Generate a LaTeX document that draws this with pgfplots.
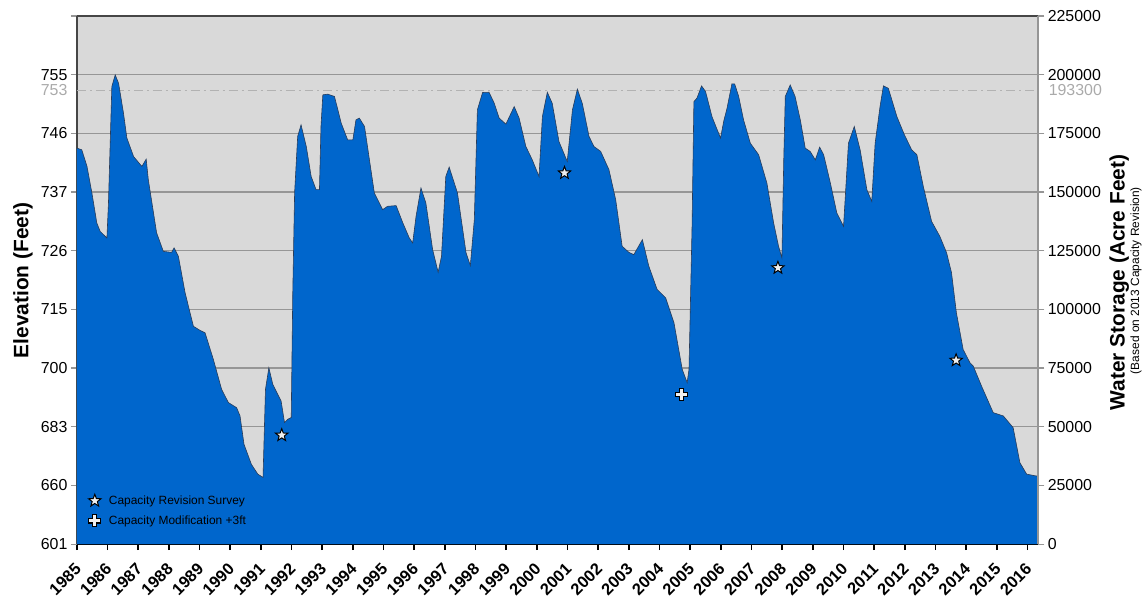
\documentclass[border=0pt]{standalone}
\usepackage{pgfplots}
\pgfplotsset{compat=1.18}
\usepackage{pgfplotstable}
\usepackage{fontspec}
\setmainfont{Liberation Sans}
\usetikzlibrary{plotmarks}

\definecolor{bluefill}{RGB}{0,102,204}
\definecolor{bgc}{RGB}{217,217,217}
\definecolor{gridc}{RGB}{150,150,150}
\definecolor{dashc}{RGB}{178,178,178}
\definecolor{lblgray}{RGB}{170,170,170}
\definecolor{edgec}{RGB}{40,60,90}
\definecolor{axdark}{RGB}{70,70,70}

\pgfdeclareplotmark{fivestar}{%
  \pgfpathmoveto{\pgfpointpolar{90}{\pgfplotmarksize}}%
  \pgfpathlineto{\pgfpointpolar{126}{0.42*\pgfplotmarksize}}%
  \pgfpathlineto{\pgfpointpolar{162}{\pgfplotmarksize}}%
  \pgfpathlineto{\pgfpointpolar{198}{0.42*\pgfplotmarksize}}%
  \pgfpathlineto{\pgfpointpolar{234}{\pgfplotmarksize}}%
  \pgfpathlineto{\pgfpointpolar{270}{0.42*\pgfplotmarksize}}%
  \pgfpathlineto{\pgfpointpolar{306}{\pgfplotmarksize}}%
  \pgfpathlineto{\pgfpointpolar{342}{0.42*\pgfplotmarksize}}%
  \pgfpathlineto{\pgfpointpolar{18}{\pgfplotmarksize}}%
  \pgfpathlineto{\pgfpointpolar{54}{0.42*\pgfplotmarksize}}%
  \pgfpathclose
  \pgfusepathqfillstroke}

\pgfdeclareplotmark{oplus}{%
  \pgfpathmoveto{\pgfpoint{-0.34*\pgfplotmarksize}{\pgfplotmarksize}}%
  \pgfpathlineto{\pgfpoint{0.34*\pgfplotmarksize}{\pgfplotmarksize}}%
  \pgfpathlineto{\pgfpoint{0.34*\pgfplotmarksize}{0.34*\pgfplotmarksize}}%
  \pgfpathlineto{\pgfpoint{\pgfplotmarksize}{0.34*\pgfplotmarksize}}%
  \pgfpathlineto{\pgfpoint{\pgfplotmarksize}{-0.34*\pgfplotmarksize}}%
  \pgfpathlineto{\pgfpoint{0.34*\pgfplotmarksize}{-0.34*\pgfplotmarksize}}%
  \pgfpathlineto{\pgfpoint{0.34*\pgfplotmarksize}{-\pgfplotmarksize}}%
  \pgfpathlineto{\pgfpoint{-0.34*\pgfplotmarksize}{-\pgfplotmarksize}}%
  \pgfpathlineto{\pgfpoint{-0.34*\pgfplotmarksize}{-0.34*\pgfplotmarksize}}%
  \pgfpathlineto{\pgfpoint{-\pgfplotmarksize}{-0.34*\pgfplotmarksize}}%
  \pgfpathlineto{\pgfpoint{-\pgfplotmarksize}{0.34*\pgfplotmarksize}}%
  \pgfpathlineto{\pgfpoint{-0.34*\pgfplotmarksize}{0.34*\pgfplotmarksize}}%
  \pgfpathclose
  \pgfusepathqfillstroke}

\pgfplotstableread{
year storage
1985.00 168700
1985.16 168000
1985.33 160900
1985.49 149600
1985.65 136800
1985.76 133200
1985.98 130400
1986.03 145400
1986.14 194900
1986.25 199900
1986.36 196300
1986.52 183600
1986.63 173000
1986.85 165100
1987.12 160900
1987.26 164000
1987.33 155200
1987.60 132600
1987.82 124700
1988.09 124300
1988.17 126200
1988.31 122600
1988.53 107000
1988.80 92800
1989.01 91100
1989.18 90000
1989.45 78700
1989.72 65900
1989.94 60300
1990.21 58100
1990.32 54600
1990.45 42500
1990.69 34000
1990.90 29800
1991.07 28400
1991.15 65900
1991.26 75100
1991.39 68000
1991.66 60900
1991.77 51800
1991.88 53200
1991.99 53900
1992.04 107000
1992.10 149600
1992.20 173700
1992.31 178600
1992.48 169400
1992.64 156600
1992.80 151000
1992.91 151000
1992.96 177900
1993.02 191400
1993.18 191700
1993.40 190700
1993.62 179300
1993.83 172200
1994.00 172200
1994.10 180700
1994.21 181500
1994.38 177900
1994.54 163700
1994.70 149600
1994.97 142500
1995.13 143900
1995.41 144200
1995.63 136800
1995.84 130400
1995.95 128300
1996.06 139600
1996.22 151700
1996.38 145300
1996.60 125500
1996.78 115800
1996.89 122600
1997.03 156600
1997.14 160600
1997.41 149600
1997.69 124100
1997.83 118700
1997.96 138200
1998.06 185000
1998.23 192400
1998.44 192500
1998.61 187800
1998.77 181500
1998.99 178900
1999.26 186400
1999.42 181500
1999.64 169400
1999.85 163700
2000.07 156600
2000.18 182100
2000.34 192500
2000.50 187800
2000.72 171500
2000.99 163000
2001.16 185000
2001.32 193800
2001.48 187800
2001.70 173700
2001.86 169400
2002.08 167300
2002.35 159500
2002.57 146700
2002.78 126900
2003.00 124300
2003.16 123300
2003.44 129700
2003.65 118400
2003.92 108500
2004.20 104900
2004.47 94300
2004.74 74400
2004.90 68800
2004.96 74400
2005.06 135400
2005.12 188500
2005.22 190000
2005.37 195200
2005.50 192800
2005.71 182100
2005.88 176500
2005.99 173000
2006.09 180000
2006.20 185700
2006.36 196100
2006.45 196000
2006.58 190700
2006.74 180700
2006.96 170800
2007.23 165900
2007.50 153800
2007.72 136800
2007.88 126900
2007.99 121900
2008.05 163700
2008.10 190700
2008.26 195600
2008.42 190700
2008.59 180700
2008.75 168700
2008.91 167300
2009.08 163700
2009.22 169100
2009.35 165900
2009.57 153800
2009.78 141100
2010.00 135400
2010.16 170800
2010.35 177900
2010.54 168000
2010.76 151000
2010.92 146000
2011.03 170800
2011.19 186400
2011.30 195200
2011.46 194200
2011.74 182100
2011.98 174500
2012.22 168000
2012.39 165900
2012.60 152400
2012.87 137500
2013.14 131100
2013.36 124100
2013.52 115600
2013.68 98500
2013.90 82900
2014.12 77300
2014.23 75800
2014.50 67300
2014.88 56000
2015.21 54600
2015.53 49600
2015.75 34700
2015.97 29800
2016.29 29000
2016.35 29000
}\storagedata

\begin{document}
\begin{tikzpicture}
\path (0,0) rectangle (1145bp,603bp);
\begin{axis}[
  at={(77bp,58bp)}, anchor=south west,
  width=963bp, height=529bp, scale only axis,
  xmin=1985, xmax=2016.35, ymin=0, ymax=225000,
  scaled x ticks=false, scaled y ticks=false,
  axis x line*=bottom, axis y line*=left,
  axis background/.style={fill=bgc},
  x axis line style={black, line width=2.5bp, -},
  y axis line style={axdark, line width=2bp, -},
  tick align=outside, major tick length=6bp,
  x tick style={black, line width=1.5bp},
  y tick style={gridc, line width=1.2bp},
  xtick={1985,...,2016},
  /pgf/number format/1000 sep={},
  /pgf/number format/assume math mode=true,
  xticklabel style={xshift=-3bp, yshift=-12bp, rotate=45, anchor=north east, font=\bfseries\fontsize{16.5}{18}\selectfont, inner sep=0bp},
  ytick={0,25000,50000,75000,100000,125000,150000,175000,200000,225000},
  yticklabels={601,660,683,700,715,726,737,746,755,{}},
  yticklabel style={font=\fontsize{16}{18}\selectfont},
  ymajorgrids, grid style={gridc, line width=1.2bp},
  extra y ticks={193300},
  extra y tick labels={753},
  extra y tick style={yticklabel style={text=lblgray, xshift=-6bp}, grid style={dashc, line width=1bp, dash pattern=on 9bp off 4bp on 2bp off 4bp}, major tick length=0pt},
  legend style={draw=none, fill=none, at={(0.012,0.063)}, anchor=west, font=\fontsize{12}{14}\selectfont, row sep=6bp, inner sep=0pt, /tikz/every odd column/.append style={column sep=6bp}},
  legend cell align=left,
]
\addplot[fill=bluefill, draw=none, forget plot] table[x=year, y=storage] {\storagedata} \closedcycle;
\addplot[draw=edgec, line width=0.6bp, forget plot] table[x=year, y=storage] {\storagedata};
\addplot[only marks, mark=fivestar, mark size=6.5bp, mark options={fill=gray!12, draw=black, line width=1bp}] coordinates {(1991.68,46400) (2000.90,158100) (2007.86,117700) (2013.67,78300)};
\addplot[only marks, mark=oplus, mark size=6bp, mark options={fill=gray!12, draw=black, line width=1.2bp}] coordinates {(2004.72,63800)};
\legend{Capacity Revision Survey, Capacity Modification +3ft}
\end{axis}
\begin{axis}[
  at={(77bp,58bp)}, anchor=south west,
  width=963bp, height=529bp, scale only axis,
  xmin=1985, xmax=2016.35, ymin=0, ymax=225000,
  scaled x ticks=false, scaled y ticks=false,
  axis x line*=top, axis y line*=right,
  x axis line style={axdark, line width=2bp, -},
  y axis line style={gridc, line width=2bp, -},
  xtick=\empty,
  tick align=outside, major tick length=6bp,
  y tick style={gridc, line width=1.2bp},
  ytick={0,25000,50000,75000,100000,125000,150000,175000,200000,225000},
  yticklabels={0,25000,50000,75000,100000,125000,150000,175000,200000,225000},
  yticklabel style={font=\fontsize{16}{18}\selectfont},
  extra y ticks={193300},
  extra y tick labels={193300},
  extra y tick style={yticklabel style={text=lblgray, xshift=7bp}, major tick length=0pt},
]
\end{axis}
\node[rotate=90, font=\bfseries\fontsize{21}{24}\selectfont] at (23bp,322bp) {Elevation (Feet)};
\node[rotate=90, font=\bfseries\fontsize{21}{24}\selectfont] at (1121bp,320bp) {Water Storage (Acre Feet)};
\node[rotate=90, font=\fontsize{12}{14}\selectfont] at (1138bp,322bp) {(Based on 2013 Capacity Revision)};
\end{tikzpicture}
\end{document}
